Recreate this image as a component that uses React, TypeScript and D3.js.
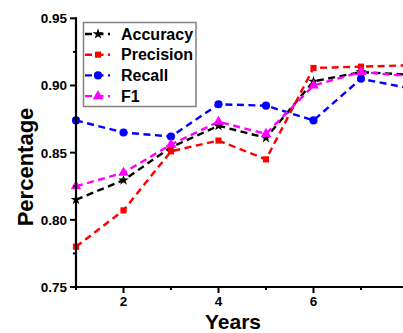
import React, { useEffect, useRef } from 'react';
import * as d3 from 'd3';

const years = [1, 2, 3, 4, 5, 6, 7, 8];
const accuracy = [0.815, 0.8295, 0.854, 0.870, 0.861, 0.903, 0.910, 0.908];
const precision = [0.780, 0.807, 0.851, 0.859, 0.845, 0.913, 0.914, 0.915];
const recall = [0.874, 0.865, 0.862, 0.886, 0.885, 0.874, 0.905, 0.898];
const f1 = [0.825, 0.835, 0.856, 0.873, 0.864, 0.900, 0.910, 0.907];
const yTicks = [0.75, 0.80, 0.85, 0.90, 0.95];
const yMinor = [0.775, 0.825, 0.875, 0.925];
const xTicks = [2, 4, 6];
const xMinor = [1, 3, 5, 7];

const seriesList = [
  { name: "Accuracy", values: accuracy, color: "#000000", symbol: d3.symbolStar, size: 36 },
  { name: "Precision", values: precision, color: "#ff0000", symbol: d3.symbolSquare, size: 38 },
  { name: "Recall", values: recall, color: "#0000ff", symbol: d3.symbolCircle, size: 52 },
  { name: "F1", values: f1, color: "#ff00ff", symbol: d3.symbolTriangle, size: 48 },
];

const App = () => {
  const ref = useRef<SVGSVGElement>(null);

  useEffect(() => {
    const width = 403;
    const svg = d3.select(ref.current);
    svg.selectAll("*").remove();

    const x = d3.scaleLinear().domain([1, 8]).range([76, 408.5]);
    const y = d3.scaleLinear().domain([0.75, 0.95]).range([287, 18.3]);
    const font = "Arial, 'Liberation Sans', sans-serif";

    // data lines
    const line = d3.line<number>()
      .x((_, i) => x(years[i]))
      .y(d => y(d));

    seriesList.forEach(s => {
      svg.append("path")
        .datum(s.values)
        .attr("fill", "none")
        .attr("stroke", s.color)
        .attr("stroke-width", 2.4)
        .attr("stroke-dasharray", "7,4.5")
        .attr("d", line);
    });

    seriesList.forEach(s => {
      svg.append("g")
        .selectAll("path")
        .data(s.values)
        .join("path")
        .attr("transform", (d, i) => `translate(${x(years[i])},${y(d)})`)
        .attr("d", d3.symbol().type(s.symbol).size(s.size)())
        .attr("fill", s.color);
    });

    // y axis
    const yAxis = svg.append("g");
    yAxis.append("line")
      .attr("x1", 76).attr("x2", 76)
      .attr("y1", y(0.95) - 1).attr("y2", y(0.75) + 1)
      .attr("stroke", "#000").attr("stroke-width", 2.2);
    yAxis.selectAll(".maj")
      .data(yTicks)
      .join("line")
      .attr("x1", 70).attr("x2", 76)
      .attr("y1", d => y(d)).attr("y2", d => y(d))
      .attr("stroke", "#000").attr("stroke-width", 2);
    yAxis.selectAll(".min")
      .data(yMinor)
      .join("line")
      .attr("x1", 73).attr("x2", 76)
      .attr("y1", d => y(d)).attr("y2", d => y(d))
      .attr("stroke", "#000").attr("stroke-width", 2);
    yAxis.selectAll("text")
      .data(yTicks)
      .join("text")
      .attr("x", 67)
      .attr("y", d => y(d))
      .attr("dy", "0.36em")
      .attr("text-anchor", "end")
      .attr("font-family", font)
      .attr("font-weight", "bold")
      .attr("font-size", 13.5)
      .text(d => d3.format(".2f")(d));

    // x axis
    const xAxis = svg.append("g");
    xAxis.append("line")
      .attr("x1", 75).attr("x2", width)
      .attr("y1", 287).attr("y2", 287)
      .attr("stroke", "#000").attr("stroke-width", 2.2);
    xAxis.selectAll(".maj")
      .data(xTicks)
      .join("line")
      .attr("x1", d => x(d)).attr("x2", d => x(d))
      .attr("y1", 287).attr("y2", 293)
      .attr("stroke", "#000").attr("stroke-width", 2);
    xAxis.selectAll(".min")
      .data(xMinor)
      .join("line")
      .attr("x1", d => x(d)).attr("x2", d => x(d))
      .attr("y1", 287).attr("y2", 290)
      .attr("stroke", "#000").attr("stroke-width", 2);
    xAxis.selectAll("text")
      .data(xTicks)
      .join("text")
      .attr("x", d => x(d))
      .attr("y", 306)
      .attr("text-anchor", "middle")
      .attr("font-family", font)
      .attr("font-weight", "bold")
      .attr("font-size", 13.5)
      .text(d => d);

    // axis titles
    svg.append("text")
      .attr("x", 233)
      .attr("y", 329)
      .attr("text-anchor", "middle")
      .attr("font-family", font)
      .attr("font-weight", "bold")
      .attr("font-size", 21)
      .text("Years");

    svg.append("text")
      .attr("transform", "translate(33,167) rotate(-90)")
      .attr("text-anchor", "middle")
      .attr("font-family", font)
      .attr("font-weight", "bold")
      .attr("font-size", 22)
      .text("Percentage");

    // legend
    const legend = svg.append("g");
    legend.append("rect")
      .attr("x", 83.5).attr("y", 22.5)
      .attr("width", 112.5).attr("height", 84)
      .attr("fill", "#fff")
      .attr("stroke", "#808080")
      .attr("stroke-width", 1.5);

    const rows = legend.selectAll("g")
      .data(seriesList)
      .join("g")
      .attr("transform", (_, i) => `translate(0,${34 + i * 20.7})`);
    rows.append("line")
      .attr("x1", 85).attr("x2", 110)
      .attr("stroke", d => d.color)
      .attr("stroke-width", 2.4)
      .attr("stroke-dasharray", "7,4.5");
    rows.append("path")
      .attr("transform", "translate(98,0)")
      .attr("d", d => d3.symbol().type(d.symbol).size(d.size)())
      .attr("fill", d => d.color);
    rows.append("text")
      .attr("x", 121)
      .attr("dy", "0.36em")
      .attr("font-family", font)
      .attr("font-weight", "bold")
      .attr("font-size", 16)
      .text(d => d.name);
  }, []);

  return (
    <svg
      ref={ref}
      width={403}
      height={333}
      style={{ position: "absolute", left: 0, top: 0, background: "#fff" }}
    />
  );
};

export default App;
